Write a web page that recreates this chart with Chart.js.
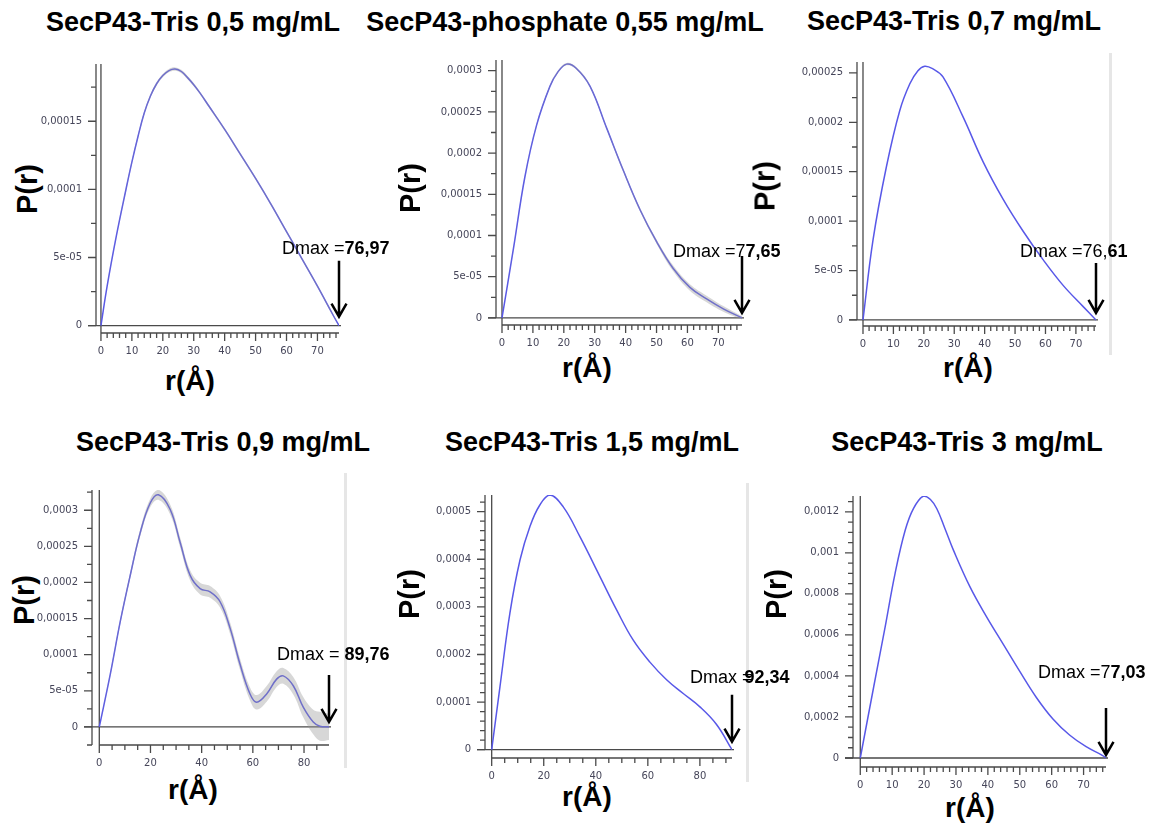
<!DOCTYPE html>
<html>
<head>
<meta charset="utf-8">
<title>SecP43 P(r)</title>
<script src="https://cdn.jsdelivr.net/npm/chart.js@4.4.1/dist/chart.umd.min.js"></script>
<style>
    body { margin: 0; background: #fff; }
    #figure {
        position: relative;
        width: 1156px;
        height: 824px;
        overflow: hidden;
        font-family: "Liberation Sans", Arial, sans-serif;
        color: #000;
    }
    .plot { position: absolute; }
    .title, .ylab, .xlab {
        position: absolute;
        font-weight: bold;
        line-height: 1;
        white-space: nowrap;
    }
    .title { font-size: 27px; transform: translate(-50%, -50%); }
    .ylab { font-size: 29px; transform: translate(-50%, -50%) rotate(-90deg); }
    .xlab { font-size: 28px; transform: translate(-50%, -50%); }
    .edge { position: absolute; width: 3px; background: #e6e6e6; }
</style>
</head>
<body>
<div id="figure"></div>
<script>
'use strict';

// P(r) distributions, r in Å
const rTris05 = [0, 2, 5, 8, 10, 12, 14, 16, 18, 20, 22, 24, 26, 28, 30, 32, 35, 40, 45, 50, 55, 60, 65, 70, 75, 76.97];
const pTris05 = [0, 2.9e-5, 6.6e-5, 9.9e-5, 1.2e-4, 1.39e-4, 1.56e-4, 1.685e-4, 1.775e-4, 1.835e-4, 1.872e-4, 1.883e-4, 1.865e-4,
                 1.82e-4, 1.768e-4, 1.708e-4, 1.608e-4, 1.44e-4, 1.26e-4, 1.08e-4, 8.9e-5, 6.9e-5, 4.9e-5, 2.9e-5, 8e-6, 0];
const errTris05 = [0, 5e-7, 5e-7, 1e-6, 1e-6, 1e-6, 1.2e-6, 1.2e-6, 1.2e-6, 1.2e-6, 1.2e-6, 1.2e-6, 1.2e-6,
                   1.2e-6, 1.2e-6, 1e-6, 1e-6, 1e-6, 1e-6, 1e-6, 1e-6, 1e-6, 1e-6, 1e-6, 8e-7, 0];

const rPhos055 = [0, 3.7, 7.4, 11.2, 15.5, 18, 20.9, 24, 28.5, 33.9, 39.3, 44.7, 50.1, 55.4, 60.8, 66.2, 71.6, 77.65];
const pPhos055 = [0, 8.4e-5, 1.71e-4, 2.34e-4, 2.81e-4, 2.98e-4, 3.08e-4, 3.03e-4, 2.81e-4, 2.30e-4, 1.785e-4, 1.31e-4,
                  9.2e-5, 6.0e-5, 3.7e-5, 2.3e-5, 1.1e-5, 0];
const errPhos055 = [0, 1e-6, 1e-6, 1e-6, 1.5e-6, 1.5e-6, 1.5e-6, 1.5e-6, 1.5e-6, 1.5e-6, 2e-6, 2e-6,
                    2.5e-6, 3.5e-6, 4e-6, 4e-6, 3.5e-6, 2e-6];

const rTris07 = [0, 3.3, 7.7, 12.1, 15.4, 18, 20.3, 23, 26.3, 32.9, 39.5, 46.1, 52.6, 59.2, 65.8, 72.4, 76.61];
const pTris07 = [0, 8.1e-5, 1.55e-4, 2.12e-4, 2.39e-4, 2.52e-4, 2.567e-4, 2.54e-4, 2.46e-4, 2.055e-4, 1.60e-4, 1.22e-4,
                 9.0e-5, 6.1e-5, 3.5e-5, 1.35e-5, 0];

const rTris09 = [0, 4.3, 8.2, 12.1, 16, 19.9, 23.1, 27.7, 31.6, 35.5, 39.4, 43.3, 47.2, 51.1, 55, 58.9, 61.5, 65.4, 69.3,
                 71.9, 75.8, 79.7, 83.6, 86.2, 89.76];
const pTris09 = [0, 7.3e-5, 1.46e-4, 2.10e-4, 2.69e-4, 3.10e-4, 3.214e-4, 3.01e-4, 2.553e-4, 2.098e-4, 1.915e-4, 1.87e-4,
                 1.733e-4, 1.368e-4, 8.67e-5, 4.57e-5, 3.42e-5, 4.57e-5, 6.62e-5, 7.07e-5, 5.7e-5, 2.74e-5, 6.8e-6, 1e-6, 0];
const errTris09 = [0, 2e-6, 3e-6, 4e-6, 5e-6, 6e-6, 7e-6, 7e-6, 7e-6, 7e-6, 8e-6, 8e-6, 8e-6, 8e-6, 8e-6, 9e-6, 1e-5,
                   1.1e-5, 1.1e-5, 1.1e-5, 1.2e-5, 1.4e-5, 1.7e-5, 2e-5, 1.8e-5];

const rTris15 = [0, 3.2, 7.0, 10.9, 14.7, 18.5, 22.4, 27.5, 33.9, 41.6, 48, 54.4, 60.8, 67.2, 73.6, 80, 86.4, 92.34];
const pTris15 = [0, 1.33e-4, 2.87e-4, 3.99e-4, 4.69e-4, 5.14e-4, 5.35e-4, 5.10e-4, 4.475e-4, 3.636e-4, 2.937e-4, 2.30e-4,
                 1.84e-4, 1.47e-4, 1.18e-4, 9.0e-5, 5.3e-5, 0];

const rTris3 = [0, 4.2, 7.8, 10.9, 14.1, 16.7, 19.8, 22, 24, 26.5, 29.2, 34.4, 39.6, 44.8, 50, 55.2, 60.4, 65.6, 70.8, 76, 77.03];
const pTris3 = [0, 3.46e-4, 6.39e-4, 8.99e-4, 1.111e-3, 1.217e-3, 1.277e-3, 1.26e-3, 1.215e-3, 1.12e-3, 1.013e-3, 8.34e-4,
                6.88e-4, 5.55e-4, 4.22e-4, 2.95e-4, 1.90e-4, 1.12e-4, 5.5e-5, 1.2e-5, 0];

const panelTitles = ['SecP43-Tris 0,5 mg/mL', 'SecP43-phosphate 0,55 mg/mL', 'SecP43-Tris 0,7 mg/mL',
                     'SecP43-Tris 0,9 mg/mL', 'SecP43-Tris 1,5 mg/mL', 'SecP43-Tris 3 mg/mL'];
const dmaxValues = [76.97, 77.65, 76.61, 89.76, 92.34, 77.03];

// tick values and their printed labels
const xTicksBy10 = [0, 10, 20, 30, 40, 50, 60, 70];
const xLabelsBy10 = ['0', '10', '20', '30', '40', '50', '60', '70'];
const xTicksBy20 = [0, 20, 40, 60, 80];
const xLabelsBy20 = ['0', '20', '40', '60', '80'];

const yTicksTris05 = [0, 5e-5, 1e-4, 1.5e-4];
const yLabelsTris05 = ['0', '5e-05', '0,0001', '0,00015'];
const yTicksTo3e4 = [0, 5e-5, 1e-4, 1.5e-4, 2e-4, 2.5e-4, 3e-4];
const yLabelsTo3e4 = ['0', '5e-05', '0,0001', '0,00015', '0,0002', '0,00025', '0,0003'];
const yTicksTris07 = [0, 5e-5, 1e-4, 1.5e-4, 2e-4, 2.5e-4];
const yLabelsTris07 = ['0', '5e-05', '0,0001', '0,00015', '0,0002', '0,00025'];
const yTicksTris15 = [0, 1e-4, 2e-4, 3e-4, 4e-4, 5e-4];
const yLabelsTris15 = ['0', '0,0001', '0,0002', '0,0003', '0,0004', '0,0005'];
const yTicksTris3 = [0, 2e-4, 4e-4, 6e-4, 8e-4, 1e-3, 1.2e-3];
const yLabelsTris3 = ['0', '0,0002', '0,0004', '0,0006', '0,0008', '0,001', '0,0012'];

const LINE_BLUE = 'rgb(88, 88, 232)';
const BAND_GREY = 'rgba(150, 150, 150, 0.38)';
const FRAME_INK = '#4a4a4a';
const TICK_INK = '#46465a';
const CURVE_TENSION = 0.4;
const NOTE_SIZE = 18;

const panels = [
    { r: rTris05, p: pTris05, err: errTris05, xTicks: xTicksBy10, xLabels: xLabelsBy10, xMinor: 2,
      yTicks: yTicksTris05, yLabels: yLabelsTris05, yMinor: 2.5e-5, xMin: -1.6, yMin: -5.4e-6, yMax: 1.92e-4,
      box: { x: 0, y: 40, w: 400, h: 330 }, area: { l: 96, t: 64, r: 339, b: 333 },
      titleAt: [193, 22], yLabAt: [27, 189], xLabAt: [190, 381],
      note: { x: 282, y: 249, prefix: 'Dmax =', boldFrom: 0, shift: 0 }, arrow: { gap: 9, len: 56 } },
    { r: rPhos055, p: pPhos055, err: errPhos055, xTicks: xTicksBy10, xLabels: xLabelsBy10, xMinor: 2,
      yTicks: yTicksTo3e4, yLabels: yLabelsTo3e4, yMinor: 2.5e-5, xMin: -1.94, yMin: -8.6e-6, yMax: 3.13e-4,
      box: { x: 400, y: 40, w: 390, h: 330 }, area: { l: 496, t: 53, r: 742, b: 325 },
      titleAt: [565, 22], yLabAt: [410, 188], xLabAt: [587, 368],
      note: { x: 673, y: 252, prefix: 'Dmax =', boldFrom: 1, shift: 0 }, arrow: { gap: 5, len: 57 } },
    { r: rTris07, p: pTris07, xTicks: xTicksBy10, xLabels: xLabelsBy10, xMinor: 2,
      yTicks: yTicksTris07, yLabels: yLabelsTris07, yMinor: 2.5e-5, xMin: -1.97, yMin: -6.1e-6, yMax: 2.61e-4,
      box: { x: 790, y: 40, w: 366, h: 330 }, area: { l: 857, t: 62, r: 1096, b: 326 },
      titleAt: [954, 21], yLabAt: [765, 186], xLabAt: [968, 368],
      note: { x: 1020, y: 252, prefix: 'Dmax =', boldFrom: 3, shift: 0 }, arrow: { gap: 7, len: 50 } },
    { r: rTris09, p: pTris09, err: errTris09, xTicks: xTicksBy20, xLabels: xLabelsBy20, xMinor: 5,
      yTicks: yTicksTo3e4, yLabels: yLabelsTo3e4, yMinor: 2.5e-5, xMin: -2.85, yMin: -2.5e-5, yMax: 3.28e-4,
      box: { x: 0, y: 470, w: 400, h: 330 }, area: { l: 92, t: 487, r: 329, b: 745 },
      titleAt: [223, 442], yLabAt: [24, 600], xLabAt: [193, 790],
      note: { x: 277, y: 655, prefix: 'Dmax = ', boldFrom: 0, shift: 0 }, arrow: { gap: 5, len: 47 } },
    { r: rTris15, p: pTris15, xTicks: xTicksBy20, xLabels: xLabelsBy20, xMinor: 5,
      yTicks: yTicksTris15, yLabels: yLabelsTris15, yMinor: 2e-5, xMin: -2.57, yMin: -1.74e-5, yMax: 5.35e-4,
      box: { x: 400, y: 470, w: 390, h: 330 }, area: { l: 485, t: 495, r: 732, b: 758 },
      titleAt: [592, 442], yLabAt: [409, 594], xLabAt: [587, 797],
      note: { x: 690, y: 678, prefix: 'Dmax =', boldFrom: 0, shift: -8 }, arrow: { gap: 8, len: 47 } },
    { r: rTris3, p: pTris3, xTicks: xTicksBy10, xLabels: xLabelsBy10, xMinor: 2,
      yTicks: yTicksTris3, yLabels: yLabelsTris3, yMinor: 5e-5, xMin: -2.28, yMin: -4.39e-5, yMax: 1.277e-3,
      box: { x: 790, y: 470, w: 366, h: 330 }, area: { l: 853, t: 496, r: 1106, b: 767 },
      titleAt: [967, 442], yLabAt: [776, 594], xLabAt: [970, 808],
      note: { x: 1038, y: 673, prefix: 'Dmax =', boldFrom: 1, shift: 0 }, arrow: { gap: 3, len: 47 } }
];

// faint frame edges left over from the exported plot windows
const edges = [
    { x: 1109, y: 53, h: 302 },
    { x: 344, y: 473, h: 295 },
    { x: 746, y: 483, h: 299 }
];

const fig = document.getElementById('figure');

function addText(cls, text, at) {
    const el = document.createElement('div');
    el.className = cls;
    el.textContent = text;
    el.style.left = at[0] + 'px';
    el.style.top = at[1] + 'px';
    fig.appendChild(el);
}

function withComma(v) {
    return v.toFixed(2).replace('.', ',');
}

// major + minor tick positions between lo and hi
function tickValues(majors, step, lo, hi) {
    const out = [];
    const first = Math.ceil(lo / step - 1e-6);
    const last = Math.floor(hi / step + 1e-6);
    for (let k = first; k <= last; k++) {
        const v = k * step;
        out.push({ v: v, major: majors.some(m => Math.abs(m - v) < step * 1e-3) });
    }
    return out;
}

function makeFramePlugin(cfg, dmax) {
    return {
        id: 'prFrame',
        beforeDatasetsDraw(chart) {
            const { ctx, chartArea: a, scales: { x, y } } = chart;
            const x0 = x.getPixelForValue(0);
            const y0 = y.getPixelForValue(0);
            ctx.save();
            ctx.strokeStyle = FRAME_INK;
            ctx.lineWidth = 1.3;
            ctx.beginPath();
            ctx.moveTo(a.left - 8, y0);
            ctx.lineTo(a.right + 2, y0);
            ctx.moveTo(x0, a.top);
            ctx.lineTo(x0, a.bottom);
            ctx.stroke();
            ctx.restore();
        },
        afterDraw(chart) {
            const { ctx, chartArea: a, scales: { x, y } } = chart;
            ctx.save();
            ctx.strokeStyle = FRAME_INK;
            ctx.lineWidth = 1.3;
            ctx.beginPath();

            // left axis with its tick marks
            const yVals = tickValues(cfg.yTicks, cfg.yMinor, cfg.yMin, cfg.yMax);
            const yLow = Math.min(...yVals.map(t => t.v));
            ctx.moveTo(a.left, a.top);
            ctx.lineTo(a.left, y.getPixelForValue(yLow));
            yVals.forEach(t => {
                const py = y.getPixelForValue(t.v);
                ctx.moveTo(a.left, py);
                ctx.lineTo(a.left - (t.major ? 8 : 5), py);
            });

            // bottom axis, starting at r = 0
            const xVals = tickValues(cfg.xTicks, cfg.xMinor, 0, dmax);
            ctx.moveTo(x.getPixelForValue(0), a.bottom);
            ctx.lineTo(a.right, a.bottom);
            xVals.forEach(t => {
                const px = x.getPixelForValue(t.v);
                ctx.moveTo(px, a.bottom);
                ctx.lineTo(px, a.bottom + (t.major ? 8 : 5));
            });
            ctx.stroke();

            // Dmax arrow
            const ax = x.getPixelForValue(dmax);
            const tip = y.getPixelForValue(0) - cfg.arrow.gap;
            ctx.strokeStyle = '#000';
            ctx.lineWidth = 2.5;
            ctx.beginPath();
            ctx.moveTo(ax, tip - cfg.arrow.len);
            ctx.lineTo(ax, tip);
            ctx.moveTo(ax - 7.5, tip - 13);
            ctx.lineTo(ax, tip);
            ctx.lineTo(ax + 7.5, tip - 13);
            ctx.stroke();

            // Dmax label, partly bold
            const value = withComma(dmax);
            const plain = cfg.note.prefix + value.slice(0, cfg.note.boldFrom);
            const bold = value.slice(cfg.note.boldFrom);
            const tx = cfg.note.x - cfg.box.x;
            const ty = cfg.note.y - cfg.box.y;
            ctx.fillStyle = '#000';
            ctx.textBaseline = 'middle';
            ctx.textAlign = 'left';
            ctx.font = NOTE_SIZE + 'px "Liberation Sans", Arial, sans-serif';
            ctx.fillText(plain, tx, ty);
            const w = ctx.measureText(plain).width;
            ctx.font = 'bold ' + NOTE_SIZE + 'px "Liberation Sans", Arial, sans-serif';
            ctx.fillText(bold, tx + w + cfg.note.shift, ty);
            ctx.restore();
        }
    };
}

function buildPanel(cfg, idx) {
    const dmax = dmaxValues[idx];
    addText('title', panelTitles[idx], cfg.titleAt);
    addText('ylab', 'P(r)', cfg.yLabAt);
    addText('xlab', 'r(Å)', cfg.xLabAt);

    const canvas = document.createElement('canvas');
    canvas.className = 'plot';
    canvas.width = cfg.box.w;
    canvas.height = cfg.box.h;
    canvas.style.left = cfg.box.x + 'px';
    canvas.style.top = cfg.box.y + 'px';
    canvas.style.width = cfg.box.w + 'px';
    canvas.style.height = cfg.box.h + 'px';
    fig.appendChild(canvas);

    const datasets = [];
    if (cfg.err) {
        datasets.push({
            data: cfg.r.map((r, i) => ({ x: r, y: cfg.p[i] + cfg.err[i] })),
            borderWidth: 0, pointRadius: 0, fill: false, tension: CURVE_TENSION
        });
        datasets.push({
            data: cfg.r.map((r, i) => ({ x: r, y: cfg.p[i] - cfg.err[i] })),
            borderWidth: 0, pointRadius: 0, fill: '-1', backgroundColor: BAND_GREY,
            tension: CURVE_TENSION
        });
    }
    datasets.push({
        data: cfg.r.map((r, i) => ({ x: r, y: cfg.p[i] })),
        borderColor: LINE_BLUE,
        borderWidth: 1.5,
        pointRadius: 0,
        fill: false,
        tension: CURVE_TENSION
    });

    const tickFont = { family: '"DejaVu Sans", sans-serif', size: 10 };

    new Chart(canvas.getContext('2d'), {
        type: 'scatter',
        data: { datasets: datasets },
        options: {
            responsive: false,
            animation: false,
            showLine: true,
            layout: {
                autoPadding: false,
                padding: {
                    top: cfg.area.t - cfg.box.y,
                    right: cfg.box.x + cfg.box.w - cfg.area.r,
                    bottom: 0,
                    left: 0
                }
            },
            plugins: { legend: { display: false }, tooltip: { enabled: false } },
            scales: {
                x: {
                    type: 'linear',
                    min: cfg.xMin,
                    max: dmax,
                    afterFit: s => { s.height = cfg.box.y + cfg.box.h - cfg.area.b; },
                    afterBuildTicks: s => { s.ticks = cfg.xTicks.map(v => ({ value: v })); },
                    grid: { display: false, drawTicks: false },
                    border: { display: false },
                    ticks: {
                        autoSkip: false, maxRotation: 0, padding: 12,
                        color: TICK_INK, font: tickFont,
                        callback: (v, i) => cfg.xLabels[i]
                    }
                },
                y: {
                    type: 'linear',
                    min: cfg.yMin,
                    max: cfg.yMax,
                    afterFit: s => { s.width = cfg.area.l - cfg.box.x; },
                    afterBuildTicks: s => { s.ticks = cfg.yTicks.map(v => ({ value: v })); },
                    grid: { display: false, drawTicks: false },
                    border: { display: false },
                    ticks: {
                        autoSkip: false, padding: 14,
                        color: TICK_INK, font: tickFont,
                        callback: (v, i) => cfg.yLabels[i]
                    }
                }
            }
        },
        plugins: [makeFramePlugin(cfg, dmax)]
    });
}

edges.forEach(e => {
    const el = document.createElement('div');
    el.className = 'edge';
    el.style.left = e.x + 'px';
    el.style.top = e.y + 'px';
    el.style.height = e.h + 'px';
    fig.appendChild(el);
});

panels.forEach(buildPanel);
</script>
</body>
</html>
